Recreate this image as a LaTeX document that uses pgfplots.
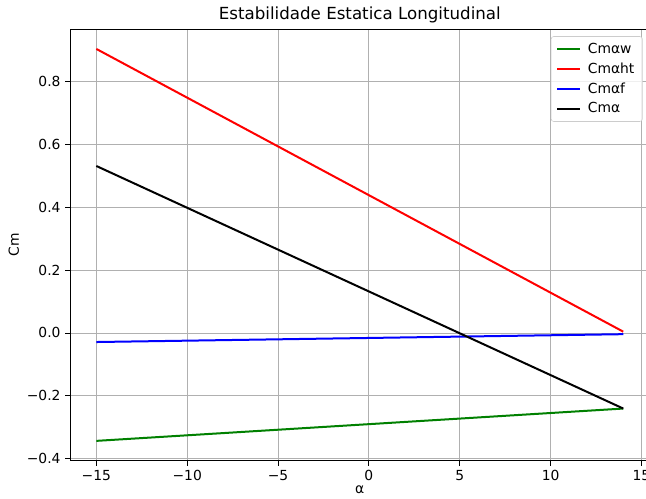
\documentclass[border=0pt]{standalone}
\usepackage{fontspec}
\setmainfont{DejaVu Sans}
\usepackage{pgfplots}
\pgfplotsset{compat=1.18}

\definecolor{mplgreen}{HTML}{008000}
\definecolor{gridgray}{HTML}{B0B0B0}
\definecolor{legedge}{HTML}{CCCCCC}

\begin{document}
\begin{tikzpicture}
\useasboundingbox (-52.5pt,-28.5pt) rectangle (432pt,345.6pt);
\begin{axis}[
    at={(0,0)}, anchor=south west,
    scale only axis,
    width=434.7pt, height=323.6pt,
    xmin=-16.45, xmax=15.45,
    ymin=-0.4075, ymax=0.9675,
    xtick={-15,-10,-5,0,5,10,15},
    xticklabels={−15,−10,−5,0,5,10,15},
    ytick={-0.4,-0.2,0,0.2,0.4,0.6,0.8},
    yticklabels={−0.4,−0.2,0.0,0.2,0.4,0.6,0.8},
    tick align=outside,
    tick pos=left,
    major tick length=3.6pt,
    every tick/.style={black, line width=0.6pt},
    grid=major,
    grid style={gridgray, line width=0.6pt},
    axis line style={line width=0.6pt},
    ticklabel style={font=\fontsize{10.4}{12.5}\selectfont},
    title={Estabilidade Estatica Longitudinal},
    title style={font=\fontsize{12.5}{15}\selectfont, yshift=-4.5pt},
    xlabel={α},
    ylabel={Cm},
    label style={font=\fontsize{10.4}{12.5}\selectfont},
    xlabel style={yshift=3pt},
    ylabel style={yshift=-1pt},
    legend cell align=left,
    legend style={
      at={(1,1)}, anchor=north east, xshift=-5.2pt, yshift=-5.2pt,
      draw=legedge, rounded corners=2pt, fill=white, fill opacity=0.8,
      text opacity=1, font=\fontsize{10.4}{12.5}\selectfont,
      inner xsep=4pt, inner ysep=3pt, row sep=1.5pt
    },
    legend image post style={line width=1.5pt},
    every axis legend/.append style={/tikz/every odd column/.append style={column sep=3pt}},
  ]
  \addplot[mplgreen, line width=1.5pt] coordinates {(-15,-0.344) (14,-0.241)};
  \addlegendentry{Cmαw}
  \addplot[red, line width=1.5pt] coordinates {(-15,0.905) (14,0.004)};
  \addlegendentry{Cmαht}
  \addplot[blue, line width=1.5pt] coordinates {(-15,-0.029) (14,-0.004)};
  \addlegendentry{Cmαf}
  \addplot[black, line width=1.5pt] coordinates {(-15,0.532) (14,-0.241)};
  \addlegendentry{Cmα}
\end{axis}
\end{tikzpicture}
\end{document}
